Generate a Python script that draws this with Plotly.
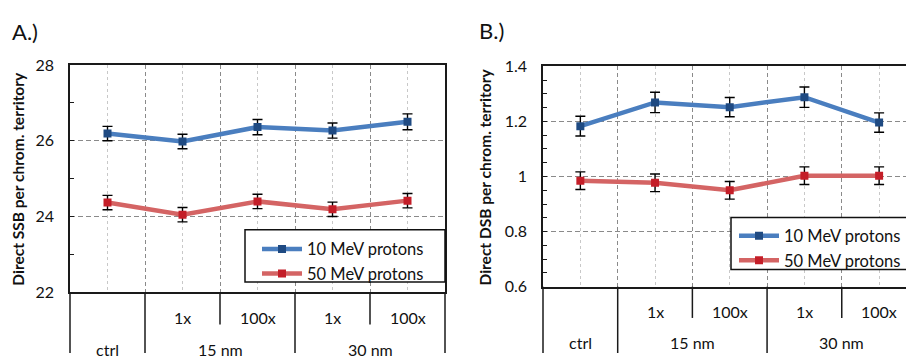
import plotly.graph_objects as go

# ---------------- data ----------------
sub_labels = ["", "1x", "100x", "1x", "100x"]
group_labels = ["ctrl", "15 nm", "30 nm"]
group_centers = [0, 1.5, 3.5]
series_names = ["10 MeV protons", "50 MeV protons"]

ssb_10 = [26.19, 25.98, 26.36, 26.27, 26.50]
ssb_10_err = [0.19, 0.19, 0.20, 0.20, 0.21]
ssb_50 = [24.37, 24.05, 24.40, 24.19, 24.42]
ssb_50_err = [0.19, 0.19, 0.19, 0.19, 0.19]

dsb_10 = [1.183, 1.269, 1.252, 1.288, 1.196]
dsb_10_err = [0.036, 0.037, 0.035, 0.037, 0.035]
dsb_50 = [0.985, 0.977, 0.950, 1.003, 1.003]
dsb_50_err = [0.032, 0.032, 0.032, 0.032, 0.032]

x_idx = list(range(len(ssb_10)))

# ---------------- styles ----------------
W, H = 906, 362
FONT = "Lato"
LINE_COLORS = ["#4a7ebf", "#d46464"]
MARK_COLORS = ["#1f4a82", "#c41e28"]

fig = go.Figure()

def add_series(xa, ya, ys, errs, legend):
    for k, (y, e) in enumerate(zip(ys, errs)):
        fig.add_trace(go.Scatter(
            x=x_idx, y=y, xaxis=xa, yaxis=ya, name=series_names[k],
            mode="lines+markers", legend=legend,
            line=dict(color=LINE_COLORS[k], width=4.5),
            marker=dict(symbol="square", size=8, color=MARK_COLORS[k]),
            error_y=dict(type="data", array=e, color="black", thickness=1.4, width=5),
        ))

add_series("x", "y", [ssb_10, ssb_50], [ssb_10_err, ssb_50_err], "legend")
add_series("x2", "y2", [dsb_10, dsb_50], [dsb_10_err, dsb_50_err], "legend2")

# plot-area geometry (pixels)
L1, R1, T1, B1 = 70, 445, 58, 298
L2, R2, T2, B2 = 543, 906, 59.5, 292
xr1 = [-0.5, 4.5]
xr2 = [-0.5, 4.36]

def xaxis_cfg(dom, rng, mirror):
    return dict(
        domain=dom, range=rng, showline=True, linecolor="#1a1a1a", linewidth=1.5,
        mirror=mirror, zeroline=False,
        tickmode="array", tickvals=[i - 0.5 for i in range(6)], showticklabels=False, ticks="",
        showgrid=True, gridcolor="#8a8a8a", gridwidth=1, griddash="4px,3px",
        minor=dict(tickmode="array", tickvals=x_idx, showgrid=True, gridcolor="#c8c8c8",
                   gridwidth=1, griddash="3px,3px", ticks=""),
        fixedrange=True,
    )

def yaxis_cfg(dom, rng, dtick, mdtick, anchor, mirror):
    return dict(
        domain=dom, range=rng, dtick=dtick, tick0=rng[0], anchor=anchor,
        showline=True, linecolor="#1a1a1a", linewidth=1.5, mirror=mirror,
        ticks="inside", ticklen=4, tickcolor="#1a1a1a", tickwidth=1.2,
        showgrid=True, gridcolor="#8a8a8a", gridwidth=1, griddash="5px,3px",
        minor=dict(dtick=mdtick, ticks="inside", ticklen=4, tickcolor="#1a1a1a", showgrid=False),
        zeroline=False, tickfont=dict(size=16, color="#111"), ticklabelstandoff=11,
        fixedrange=True,
    )

leg_common = dict(xanchor="left", yanchor="top", bgcolor="rgba(0,0,0,0)",
                  borderwidth=0, font=dict(size=16.5), itemwidth=40, tracegroupgap=0)

fig.update_layout(
    width=W, height=H, margin=dict(l=0, r=0, t=0, b=0),
    paper_bgcolor="white", plot_bgcolor="white",
    font=dict(family=FONT, color="#111", size=15),
    xaxis=xaxis_cfg([L1 / W, R1 / W], xr1, True),
    yaxis=yaxis_cfg([1 - B1 / H, 1 - T1 / H], [22, 28], 2, 1, "x", True),
    xaxis2=dict(xaxis_cfg([L2 / W, 1.0], xr2, True), anchor="y2"),
    yaxis2=yaxis_cfg([1 - B2 / H, 1 - T2 / H], [0.6, 1.4], 0.2, 0.05, "x2", False),
    legend=dict(leg_common, x=257 / W, y=1 - 234 / H),
    legend2=dict(leg_common, x=734 / W, y=1 - 220 / H),
    showlegend=True,
)

# legend frames
for (x0, x1, y0, y1) in [(245, 445, 232, 287), (731, 930, 219, 274)]:
    fig.add_shape(type="rect", xref="paper", yref="paper", layer="above",
                  x0=x0 / W, x1=x1 / W, y0=1 - y1 / H, y1=1 - y0 / H,
                  fillcolor="white", line=dict(color="#111", width=1.5))

# category axis separators below the plot areas
def dom_frac(v, rng):
    return (v - rng[0]) / (rng[1] - rng[0])

def add_separators(xref, rng, bottom_px, short_px):
    for b in [i - 0.5 for i in range(6)]:
        if b > rng[1]:
            continue
        full = b in (-0.5, 0.5, 2.5, 4.5)
        y0 = 1 - bottom_px / H
        y1 = 0 if full else 1 - (bottom_px + short_px) / H
        fig.add_shape(type="line", xref=xref + " domain", yref="paper",
                      x0=dom_frac(b, rng), x1=dom_frac(b, rng), y0=y0, y1=y1,
                      line=dict(color="#1a1a1a", width=1.5))

add_separators("x", xr1, B1, 34)
add_separators("x2", xr2, B2, 33)

def add_cat_labels(xref, sub_y, grp_y):
    for i, t in enumerate(sub_labels):
        if t:
            fig.add_annotation(x=x_idx[i], y=1 - sub_y / H, xref=xref, yref="paper",
                               text=t, showarrow=False, font=dict(size=16),
                               xanchor="center", yanchor="middle")
    for c, t in zip(group_centers, group_labels):
        fig.add_annotation(x=c, y=1 - grp_y / H, xref=xref, yref="paper",
                           text=t, showarrow=False, font=dict(size=16),
                           xanchor="center", yanchor="middle")

add_cat_labels("x", 325, 358)
add_cat_labels("x2", 318, 351)

# y-axis titles
fig.add_annotation(x=18 / W, y=1 - (T1 + B1) / 2 / H, xref="paper", yref="paper",
                   text="<b>Direct SSB per chrom. territory</b>", textangle=-90,
                   showarrow=False, font=dict(size=15.5), xanchor="center", yanchor="middle")
fig.add_annotation(x=485 / W, y=1 - (T2 + B2) / 2 / H, xref="paper", yref="paper",
                   text="<b>Direct DSB per chrom. territory</b>", textangle=-90,
                   showarrow=False, font=dict(size=15.5), xanchor="center", yanchor="middle")

# panel labels
fig.add_annotation(x=10 / W, y=1 - 23 / H, xref="paper", yref="paper", text="A.)",
                   showarrow=False, font=dict(size=22), xanchor="left", yanchor="middle")
fig.add_annotation(x=477 / W, y=1 - 22 / H, xref="paper", yref="paper", text="B.)",
                   showarrow=False, font=dict(size=22), xanchor="left", yanchor="middle")

fig.write_html("out.html")
